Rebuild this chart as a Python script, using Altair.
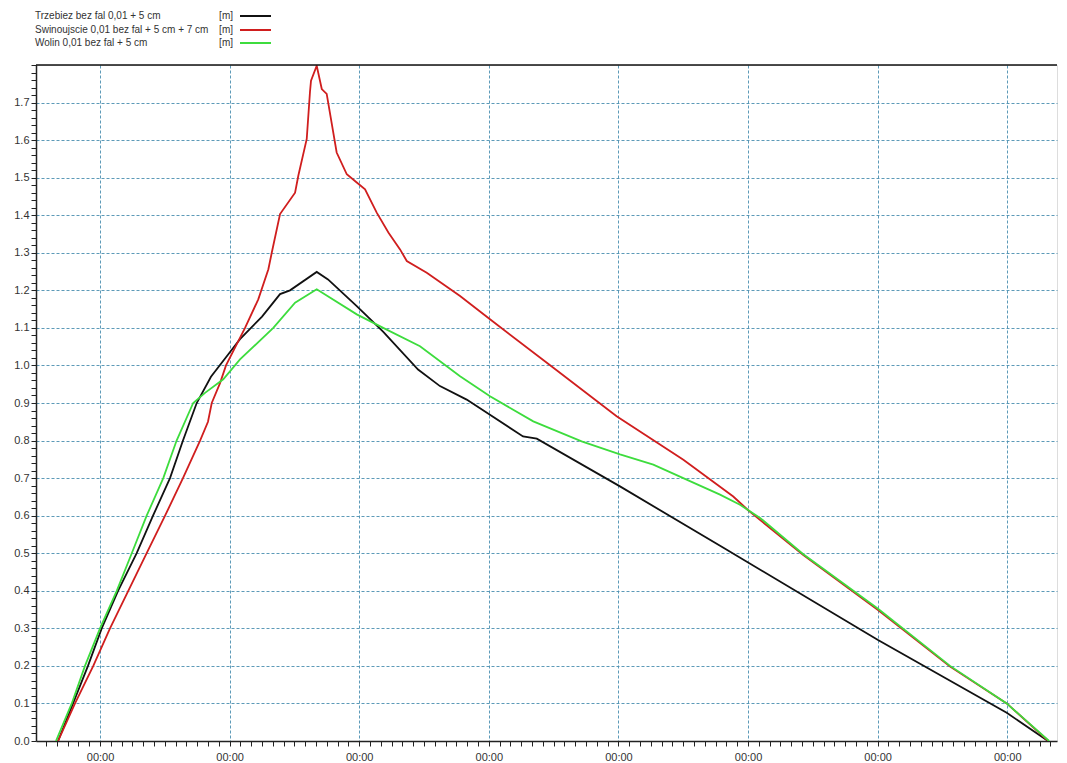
import altair as alt
import pandas as pd

# ---- data (x in days; each major gridline = 00:00 of a day) ----
black_x = [0.676, 0.792, 0.907, 1.013, 1.139, 1.283, 1.409, 1.540, 1.640, 1.746, 1.856,
           1.990, 2.080, 2.250, 2.389, 2.466, 2.672, 2.759, 2.981, 3.184, 3.454, 3.623,
           3.829, 4.264, 4.370, 5.012, 5.807, 7.003, 7.996, 8.315]
black_y = [0.00, 0.10, 0.20, 0.30, 0.40, 0.50, 0.60, 0.70, 0.80, 0.90, 0.97,
           1.03, 1.07, 1.13, 1.19, 1.20, 1.249, 1.229, 1.158, 1.09, 0.989, 0.945,
           0.909, 0.811, 0.805, 0.678, 0.515, 0.269, 0.075, 0.00]

red_x = [0.676, 0.807, 0.948, 1.077, 1.218, 1.360, 1.502, 1.640, 1.772, 1.833, 1.862,
         1.926, 1.972, 2.119, 2.221, 2.299, 2.325, 2.389, 2.505, 2.530, 2.595, 2.620,
         2.628, 2.672, 2.711, 2.749, 2.826, 2.904, 2.981, 3.045, 3.135, 3.225, 3.315,
         3.367, 3.521, 3.778, 4.009, 4.498, 4.986, 5.501, 5.886, 5.999, 6.424, 7.003,
         7.559, 7.996, 8.317]
red_y = [0.00, 0.10, 0.20, 0.30, 0.40, 0.50, 0.60, 0.70, 0.80, 0.85, 0.90,
         0.953, 1.00, 1.10, 1.176, 1.256, 1.30, 1.403, 1.46, 1.505, 1.603, 1.728,
         1.758, 1.798, 1.736, 1.723, 1.567, 1.509, 1.487, 1.469, 1.407, 1.354, 1.309,
         1.278, 1.247, 1.185, 1.123, 0.994, 0.865, 0.749, 0.651, 0.615, 0.496, 0.349,
         0.198, 0.10, 0.00]

green_x = [0.660, 0.782, 0.884, 1.000, 1.129, 1.245, 1.360, 1.488, 1.591, 1.719, 1.810,
           1.951, 2.080, 2.337, 2.505, 2.672, 2.981, 3.185, 3.469, 3.778, 4.009, 4.343,
           4.716, 5.012, 5.269, 5.526, 5.784, 5.938, 6.093, 6.424, 7.003, 7.559, 7.996,
           8.323]
green_y = [0.00, 0.10, 0.20, 0.30, 0.40, 0.50, 0.60, 0.70, 0.80, 0.90, 0.927,
           0.963, 1.016, 1.10, 1.167, 1.203, 1.136, 1.10, 1.051, 0.971, 0.918, 0.851,
           0.798, 0.763, 0.736, 0.696, 0.656, 0.629, 0.594, 0.498, 0.352, 0.20, 0.10,
           0.00]

series_names = ["Trzebiez bez fal 0,01 + 5 cm",
                "Swinoujscie 0,01 bez fal + 5 cm + 7 cm",
                "Wolin 0,01 bez fal + 5 cm"]
series_units = ["[m]", "[m]", "[m]"]
series_colors = ["#111111", "#d01e1e", "#3ddc3d"]

x_ticks = [k / 12 for k in range(7, 101)]          # 2-hour minor ticks
y_ticks = [round(k * 0.02, 2) for k in range(0, 91)]  # 0.02 minor ticks

W, H = 1021, 676
XDOM = [0.506, 8.384]
YDOM = [0.0, 1.8]

grid_color = "#4a8fb0"
font = "Liberation Sans"

x_axis = alt.Axis(
    values=x_ticks, title=None, grid=True,
    gridColor=grid_color, gridDash=[3, 2], gridWidth=1,
    gridOpacity={"condition": {"test": "abs(datum.value - round(datum.value)) < 0.001", "value": 0.9}, "value": 0},
    labelExpr="abs(datum.value - round(datum.value)) < 0.001 ? '00:00' : ''",
    labelOverlap=False, labelFlush=False, labelFont=font, labelFontSize=11,
    labelColor="#333333", labelPadding=5, tickSize=5, tickColor="#222222",
    domainColor="#222222", domainWidth=1.5,
)
y_axis = alt.Axis(
    values=y_ticks, title=None, grid=True,
    gridColor=grid_color, gridDash=[3, 2], gridWidth=1,
    gridOpacity={"condition": {"test": "abs(datum.value*10 - round(datum.value*10)) < 0.001 && datum.value > 0.05 && datum.value < 1.75", "value": 0.9}, "value": 0},
    labelExpr="abs(datum.value*10 - round(datum.value*10)) < 0.001 && datum.value < 1.75 ? format(datum.value, '.1f') : ''",
    labelOverlap=False, labelFlush=False, labelFont=font, labelFontSize=11,
    labelColor="#333333", labelPadding=2, tickSize=5, tickColor="#222222",
    domainColor="#222222", domainWidth=1.5,
)

xs = [black_x, red_x, green_x]
ys = [black_y, red_y, green_y]

enc_x = alt.X("t:Q", scale=alt.Scale(domain=XDOM, nice=False, zero=False), axis=x_axis)
enc_y = alt.Y("v:Q", scale=alt.Scale(domain=YDOM, nice=False), axis=y_axis)

layers = []
for i in range(3):
    df = pd.DataFrame({"t": xs[i], "v": ys[i], "s": series_names[i]})
    layers.append(
        alt.Chart(df).mark_line(color=series_colors[i], strokeWidth=1.8, clip=True)
        .encode(x=enc_x, y=enc_y)
    )

# top border
top = alt.Chart(pd.DataFrame({"a": [0]})).mark_rule(color="#111111", strokeWidth=1.5).encode(
    x=alt.value(0), x2=alt.value(W), y=alt.value(0))
layers.append(top)

# legend (top-left, outside plot area)
row_y = [-49, -35, -22]
for i in range(3):
    d = pd.DataFrame({"name": [series_names[i]], "unit": [series_units[i]]})
    layers.append(alt.Chart(d).mark_text(align="left", baseline="middle", font=font,
                                         fontSize=10, color="#333333")
                  .encode(text="name:N", x=alt.value(-1), y=alt.value(row_y[i])))
    layers.append(alt.Chart(d).mark_text(align="right", baseline="middle", font=font,
                                         fontSize=10, color="#333333")
                  .encode(text="unit:N", x=alt.value(197), y=alt.value(row_y[i])))
    layers.append(alt.Chart(d).mark_rule(color=series_colors[i], strokeWidth=2)
                  .encode(x=alt.value(204), x2=alt.value(235), y=alt.value(row_y[i])))

chart = alt.layer(*layers).properties(
    width=W, height=H,
    autosize=alt.AutoSizeParams(type="none"),
    padding={"left": 28, "top": 57, "right": 2, "bottom": 20},
).configure_view(strokeWidth=0, stroke="transparent", strokeOpacity=0).configure(background="white")

chart.save("out.html", embed_options={"renderer": "svg", "actions": False})
